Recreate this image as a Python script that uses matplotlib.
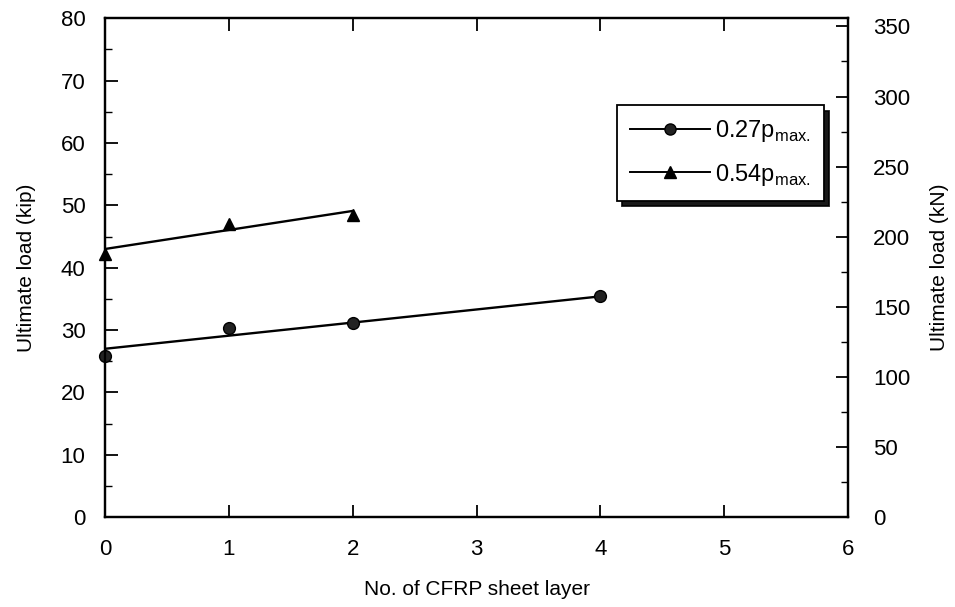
import matplotlib
matplotlib.use("Agg")
import matplotlib.pyplot as plt
from matplotlib.ticker import MultipleLocator

plt.rcParams['font.family'] = ['Liberation Sans', 'DejaVu Sans']
plt.rcParams['mathtext.fontset'] = 'custom'
plt.rcParams['mathtext.rm'] = 'Liberation Sans'

# Data (kip)
layers_027 = [0, 1, 2, 4]
load_027 = [25.9, 30.3, 31.2, 35.5]
fit_x_027 = [0, 4]
fit_y_027 = [27.0, 35.4]

layers_054 = [0, 1, 2]
load_054 = [42.2, 47.0, 48.5]
fit_x_054 = [0, 2]
fit_y_054 = [43.0, 49.1]

labels = [r'0.27p$_{\mathregular{max.}}$', r'0.54p$_{\mathregular{max.}}$']
KIP_TO_KN = 4.448

fig = plt.figure(figsize=(9.55, 6.07), dpi=100)
ax = fig.add_axes([0.110, 0.148, 0.778, 0.822])

# fitted lines
ax.plot(fit_x_027, fit_y_027, color='black', lw=1.7, zorder=2)
ax.plot(fit_x_054, fit_y_054, color='black', lw=1.7, zorder=2)
# data points
ax.plot(layers_027, load_027, linestyle='none', marker='o', ms=8.5,
        color='#222222', mec='black', zorder=3, clip_on=False)
ax.plot(layers_054, load_054, linestyle='none', marker='^', ms=8.5,
        color='black', zorder=3, clip_on=False)

# legend proxies
h1, = ax.plot([], [], color='black', lw=1.4, marker='o', ms=8, mfc='#222222', mec='black')
h2, = ax.plot([], [], color='black', lw=1.4, marker='^', ms=8, mfc='black', mec='black')
leg = ax.legend([h1, h2], labels, loc='upper right', bbox_to_anchor=(0.967, 0.826),
                frameon=True, fancybox=False,
                shadow={'color': 'black', 'alpha': 0.9, 'ox': 4, 'oy': -4},
                edgecolor='black', fontsize=17, handlelength=3.4, handletextpad=0.2,
                borderpad=0.55, labelspacing=0.75, borderaxespad=0)
leg.get_frame().set_linewidth(1.3)

ax.set_xlim(0, 6)
ax.set_ylim(0, 80)
ax.xaxis.set_major_locator(MultipleLocator(1))
ax.yaxis.set_major_locator(MultipleLocator(10))
ax.yaxis.set_minor_locator(MultipleLocator(5))
ax.tick_params(axis='both', which='major', direction='in', length=9, width=1.3,
               labelsize=16)
ax.tick_params(axis='x', which='major', pad=16)
ax.tick_params(axis='y', which='major', pad=14)
ax.tick_params(axis='y', which='minor', direction='in', length=5, width=1.0)
ax.tick_params(axis='x', top=True)
for s in ax.spines.values():
    s.set_linewidth(1.6)

ax.set_xlabel('No. of CFRP sheet layer', fontsize=15, labelpad=14)
ax.set_ylabel('Ultimate load (kip)', fontsize=15, labelpad=18)

ax2 = ax.twinx()
ax2.set_ylim(0, 80 * KIP_TO_KN)
ax2.yaxis.set_major_locator(MultipleLocator(50))
ax2.yaxis.set_minor_locator(MultipleLocator(25))
ax2.tick_params(axis='y', which='major', direction='in', length=9, width=1.3,
                labelsize=16, pad=18)
ax2.tick_params(axis='y', which='minor', direction='in', length=5, width=1.0)
ax2.set_ylabel('Ultimate load (kN)', fontsize=15, labelpad=14)
for s in ax2.spines.values():
    s.set_linewidth(1.6)

fig.savefig('out.png', dpi=100)
